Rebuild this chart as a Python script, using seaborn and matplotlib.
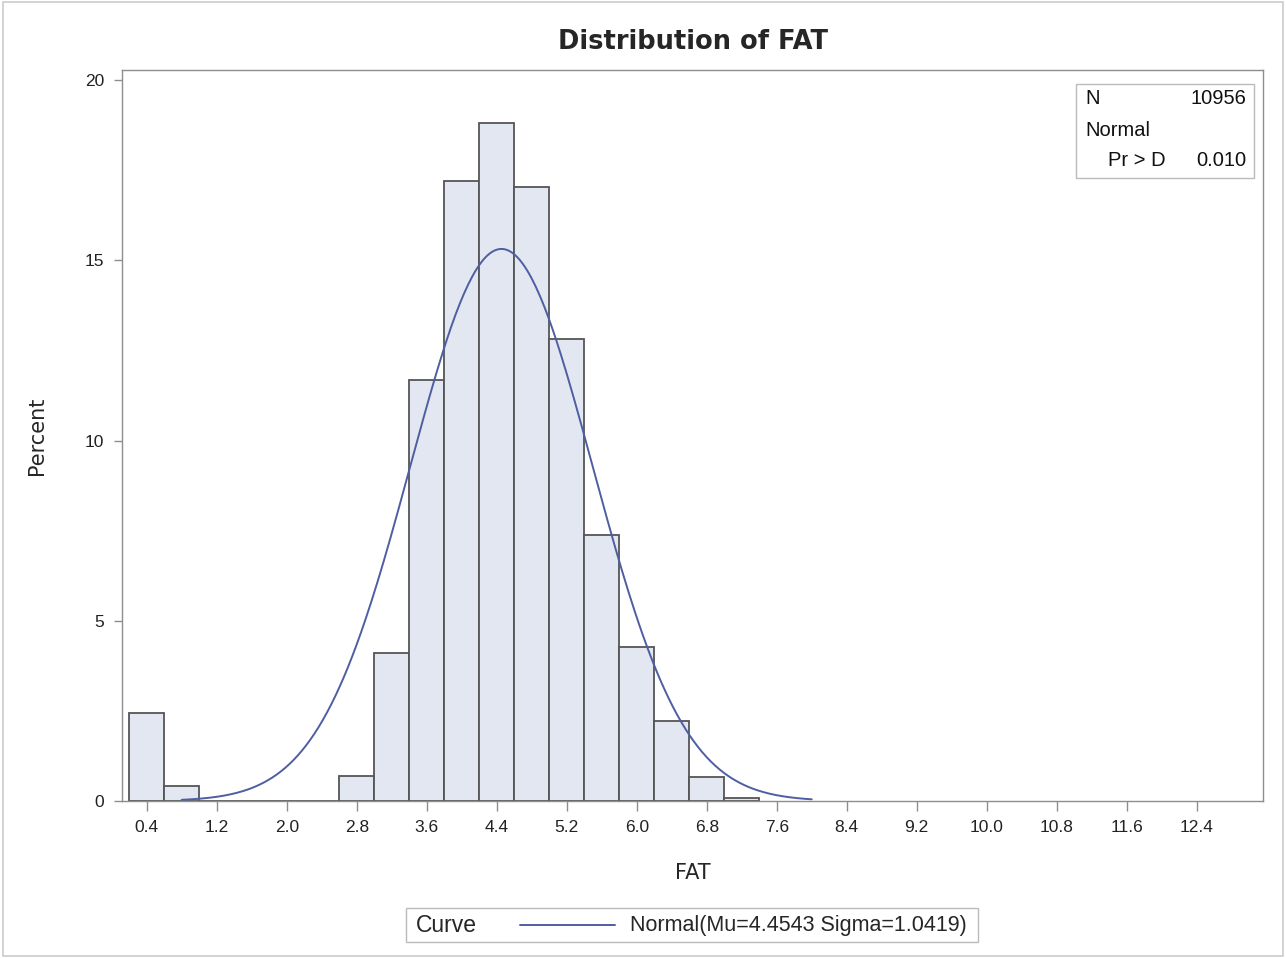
import numpy as np
import pandas as pd
import matplotlib
matplotlib.use("Agg")
from matplotlib import pyplot as plt
from matplotlib.patches import Rectangle
from matplotlib.lines import Line2D
import seaborn as sns

# binned percentages (bin midpoints, width 0.4)
bin_mid = [0.4, 0.8, 2.8, 3.2, 3.6, 4.0, 4.4, 4.8, 5.2, 5.6, 6.0, 6.4, 6.8, 7.2]
percent = [2.44, 0.42, 0.70, 4.10, 11.68, 17.20, 18.82, 17.04, 12.82, 7.38, 4.26, 2.22, 0.66, 0.09]
bin_w = 0.4
n_obs = 10956
mu, sigma = 4.4543, 1.0419
pr_d = "0.010"
xticks = [0.4, 1.2, 2.0, 2.8, 3.6, 4.4, 5.2, 6.0, 6.8, 7.6, 8.4, 9.2, 10.0, 10.8, 11.6, 12.4]
yticks = [0, 5, 10, 15, 20]

df = pd.DataFrame({"FAT": bin_mid, "Percent": percent})

# fitted normal curve, scaled to percent per bin
cx = np.linspace(0.8, 8.0, 300)
cy = 100 * bin_w * np.exp(-0.5 * ((cx - mu) / sigma) ** 2) / (sigma * np.sqrt(2 * np.pi))
curve = pd.DataFrame({"FAT": cx, "Percent": cy})

sns.set_style("white")
plt.rcParams['font.family'] = ['Liberation Sans', 'DejaVu Sans']

fill = "#E3E7F1"
edge = "#555555"
blue = "#4E5EA2"
frame = "#8E8E8E"

AX_L, AX_W, AX_B, AX_T = 122, 1141, 801, 70
fig = plt.figure(figsize=(12.86, 9.58), dpi=100)
ax = fig.add_axes([AX_L/1286, 1 - AX_B/958, AX_W/1286, (AX_B - AX_T)/958])

sns.histplot(data=df, x="FAT", weights="Percent", binwidth=bin_w,
             binrange=(bin_mid[0] - bin_w/2, bin_mid[-1] + bin_w/2), stat="count",
             color=fill, alpha=1, edgecolor=edge, linewidth=1.3, ax=ax)
sns.lineplot(data=curve, x="FAT", y="Percent", color=blue, linewidth=1.4, ax=ax)

ax.set_xlim(0.118, 13.157)
ax.set_ylim(0, 20.28)
ax.set_xticks(xticks)
ax.set_xticklabels([f"{t:.1f}" for t in xticks])
ax.set_yticks(yticks)
ax.tick_params(axis="both", bottom=True, left=True, direction="out", length=6,
               width=1, color=frame, labelsize=12.5, labelcolor="#222222", pad=7)
ax.tick_params(axis="x", length=7)
for s in ax.spines.values():
    s.set_color(frame)
    s.set_linewidth(1)
    s.set_visible(True)

ax.set_xlabel("FAT", fontsize=15, labelpad=20, family=["DejaVu Sans"])
ax.set_ylabel("Percent", fontsize=15, labelpad=27, family=["DejaVu Sans"])
fig.text((AX_L + AX_W/2)/1286, 1 - 42/958, "Distribution of FAT", ha="center",
         va="center", fontsize=18.5, fontweight="bold", family=["DejaVu Sans"])

# stats inset
def axc(px, py):
    return (px - AX_L) / AX_W, (AX_B - py) / (AX_B - AX_T)

bx0, by0 = axc(1076, 178)
bx1, by1 = axc(1254, 84)
ax.add_patch(Rectangle((bx0, by0), bx1 - bx0, by1 - by0, transform=ax.transAxes,
                       facecolor="white", edgecolor="#BBBBBB", linewidth=1, zorder=5))
ins = dict(transform=ax.transAxes, fontsize=14.5, va="center", zorder=6, color="#111111")
ax.text(*axc(1085, 98), "N", ha="left", **ins)
ax.text(*axc(1246, 98), str(n_obs), ha="right", **ins)
ax.text(*axc(1085, 130), "Normal", ha="left", **ins)
ax.text(*axc(1108, 161), "Pr > D", ha="left", **ins)
ax.text(*axc(1246, 161), pr_d, ha="right", **ins)

# bottom legend box
fig.patches.append(Rectangle((406/1286, 1 - 942/958), 572/1286, 34/958,
                             transform=fig.transFigure, facecolor="white",
                             edgecolor="#BBBBBB", linewidth=1))
fig.text(416/1286, 1 - 926/958, "Curve", ha="left", va="center", fontsize=16.5)
fig.lines.append(Line2D([520/1286, 615/1286], [1 - 925/958, 1 - 925/958],
                        transform=fig.transFigure, color=blue, linewidth=1.4))
fig.text(630/1286, 1 - 926/958, f"Normal(Mu={mu} Sigma={sigma})", ha="left",
         va="center", fontsize=15.5)

# outer frame
fig.patches.append(Rectangle((0.002, 0.002), 0.996, 0.996, transform=fig.transFigure,
                             facecolor="none", edgecolor="#CCCCCC", linewidth=1.2))

fig.savefig("out.png", dpi=100)
